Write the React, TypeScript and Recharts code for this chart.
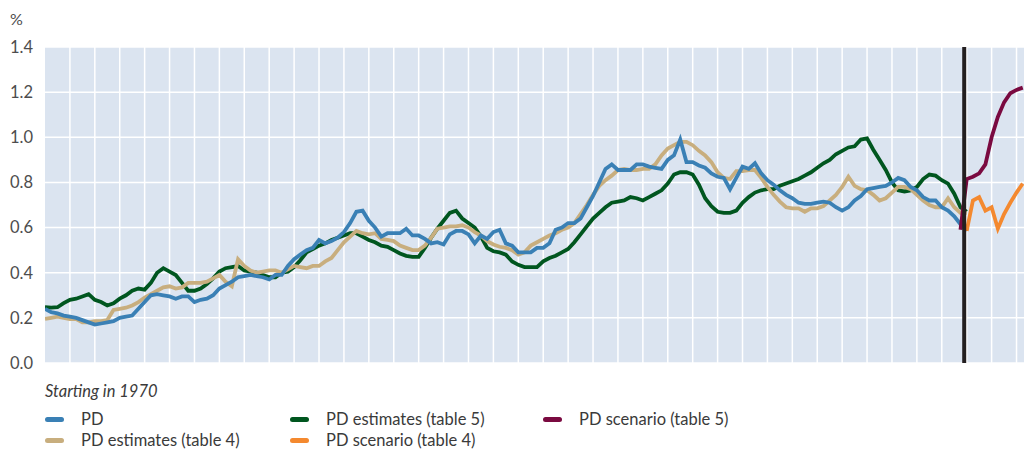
import { LineChart, Line, XAxis, YAxis, CartesianGrid, ReferenceLine } from 'recharts'

// quarterly, starting 1970Q1
const startYear = 1970

const pd = [
  0.24, 0.225, 0.22, 0.21, 0.205, 0.2, 0.19, 0.18, 0.17, 0.175, 0.18, 0.185,
  0.2, 0.205, 0.21, 0.24, 0.27, 0.3, 0.305, 0.3, 0.295, 0.285, 0.295, 0.295,
  0.27, 0.28, 0.285, 0.3, 0.33, 0.345, 0.36, 0.38, 0.385, 0.39, 0.385, 0.38,
  0.37, 0.39, 0.39, 0.43, 0.46, 0.48, 0.5, 0.51, 0.545, 0.53, 0.54, 0.555,
  0.58, 0.62, 0.67, 0.675, 0.63, 0.6, 0.56, 0.575, 0.575, 0.575, 0.595, 0.565,
  0.565, 0.55, 0.53, 0.535, 0.525, 0.57, 0.585, 0.585, 0.57, 0.53, 0.565, 0.55,
  0.58, 0.59, 0.53, 0.52, 0.49, 0.49, 0.49, 0.51, 0.51, 0.53, 0.59, 0.6,
  0.62, 0.62, 0.64, 0.69, 0.74, 0.8, 0.86, 0.88, 0.855, 0.855, 0.855, 0.88,
  0.88, 0.87, 0.865, 0.86, 0.9, 0.92, 0.99, 0.89, 0.89, 0.875, 0.865, 0.84,
  0.825, 0.82, 0.77, 0.82, 0.87, 0.86, 0.885, 0.84, 0.81, 0.79, 0.765, 0.745,
  0.73, 0.71, 0.705, 0.705, 0.71, 0.715, 0.71, 0.69, 0.675, 0.69, 0.72, 0.74,
  0.77, 0.775, 0.78, 0.785, 0.8, 0.82, 0.81, 0.78, 0.765, 0.735, 0.72, 0.72,
  0.69, 0.675, 0.65, 0.615, 0.585,
]

const pdEst4 = [
  0.195, 0.2, 0.205, 0.2, 0.195, 0.195, 0.18, 0.18, 0.185, 0.185, 0.19, 0.235,
  0.24, 0.245, 0.255, 0.27, 0.29, 0.305, 0.32, 0.335, 0.34, 0.33, 0.335, 0.355,
  0.355, 0.355, 0.36, 0.375, 0.39, 0.36, 0.34, 0.46, 0.43, 0.41, 0.4, 0.405,
  0.41, 0.41, 0.4, 0.415, 0.43, 0.425, 0.42, 0.43, 0.43, 0.45, 0.465, 0.5,
  0.535, 0.56, 0.585, 0.575, 0.57, 0.575, 0.55, 0.545, 0.54, 0.52, 0.51, 0.5,
  0.5, 0.52, 0.555, 0.595, 0.6, 0.605, 0.605, 0.61, 0.6, 0.58, 0.565, 0.54,
  0.525, 0.515, 0.51, 0.5, 0.48, 0.49, 0.52, 0.535, 0.55, 0.565, 0.575, 0.59,
  0.6, 0.62, 0.66, 0.7, 0.745, 0.785, 0.81, 0.83, 0.855, 0.86, 0.855, 0.855,
  0.86, 0.86, 0.88, 0.92, 0.95, 0.965, 0.98, 0.98, 0.965, 0.94, 0.92, 0.89,
  0.845, 0.82, 0.815, 0.85, 0.85, 0.855, 0.855, 0.82, 0.78, 0.745, 0.715, 0.69,
  0.685, 0.685, 0.67, 0.685, 0.685, 0.695, 0.72, 0.745, 0.78, 0.825, 0.785, 0.77,
  0.765, 0.745, 0.72, 0.73, 0.755, 0.78, 0.78, 0.77, 0.745, 0.72, 0.7, 0.69,
  0.69, 0.73, 0.69, 0.665, 0.665,
]

const pdEst5 = [
  0.247, 0.245, 0.247, 0.265, 0.28, 0.285, 0.295, 0.305, 0.28, 0.27, 0.255, 0.265,
  0.285, 0.3, 0.32, 0.33, 0.325, 0.355, 0.4, 0.42, 0.405, 0.39, 0.355, 0.32,
  0.32, 0.33, 0.35, 0.375, 0.405, 0.42, 0.425, 0.43, 0.41, 0.405, 0.4, 0.39,
  0.38, 0.38, 0.4, 0.405, 0.425, 0.455, 0.49, 0.505, 0.52, 0.53, 0.545, 0.555,
  0.565, 0.575, 0.575, 0.56, 0.545, 0.535, 0.52, 0.515, 0.5, 0.485, 0.475, 0.47,
  0.47, 0.51, 0.555, 0.595, 0.63, 0.665, 0.675, 0.64, 0.62, 0.6, 0.56, 0.51,
  0.495, 0.49, 0.48, 0.45, 0.435, 0.425, 0.425, 0.425, 0.45, 0.465, 0.475, 0.49,
  0.505, 0.535, 0.57, 0.605, 0.64, 0.665, 0.69, 0.71, 0.715, 0.72, 0.735, 0.73,
  0.72, 0.735, 0.75, 0.765, 0.795, 0.835, 0.845, 0.845, 0.835, 0.79, 0.73, 0.695,
  0.67, 0.665, 0.665, 0.675, 0.71, 0.735, 0.755, 0.765, 0.77, 0.77, 0.785, 0.795,
  0.805, 0.815, 0.83, 0.845, 0.865, 0.885, 0.9, 0.925, 0.94, 0.955, 0.96, 0.99,
  0.995, 0.945, 0.9, 0.855, 0.8, 0.765, 0.76, 0.765, 0.78, 0.815, 0.835, 0.83,
  0.81, 0.795, 0.75, 0.69, 0.67,
]

// scenarios: table 5 starts at quarter 147, table 4 at quarter 148
const scen5Start = 147
const pdScen5 = [0.59, 0.815, 0.825, 0.84, 0.88, 1.0, 1.09, 1.155, 1.195, 1.21, 1.22]
const scen4Start = 148
const pdScen4 = [0.585, 0.72, 0.735, 0.675, 0.69, 0.595, 0.66, 0.71, 0.755, 0.795]

const yTicks = [0, 0.2, 0.4, 0.6, 0.8, 1.0, 1.2, 1.4]
const yearTicks = Array.from({ length: 39 }, (_, k) => startYear + 1 + k)
const xDomain = [1970, 2009.3]
const cutoff = 2006.9

const nQuarters = scen4Start + pdScen4.length
const data = Array.from({ length: nQuarters }, (_, i) => ({
  t: startYear + i / 4,
  pd: pd[i],
  est4: pdEst4[i],
  est5: pdEst5[i],
  scen5: pdScen5[i - scen5Start],
  scen4: pdScen4[i - scen4Start],
}))

const colors = {
  pd: '#3a80b5',
  est4: '#c8ae7e',
  est5: '#00561f',
  scen5: '#7a0a40',
  scen4: '#f4892f',
}

const legendItems = [
  { label: 'PD', color: colors.pd, col: 0, row: 0 },
  { label: 'PD estimates (table 5)', color: colors.est5, col: 1, row: 0 },
  { label: 'PD scenario (table 5)', color: colors.scen5, col: 2, row: 0 },
  { label: 'PD estimates (table 4)', color: colors.est4, col: 0, row: 1 },
  { label: 'PD scenario (table 4)', color: colors.scen4, col: 1, row: 1 },
]
const colX = [45, 290, 543]

const font = 'Lato, "Open Sans", sans-serif'
const lineW = 3.8

// vertical gridlines at each year, through the x axis scale when available
const yearLines = (props: any) => {
  const { xAxis, offset } = props
  if (xAxis && typeof xAxis.scale === 'function') {
    return yearTicks.map((y) => xAxis.scale(y))
  }
  return yearTicks.map(
    (y) => offset.left + ((y - xDomain[0]) / (xDomain[1] - xDomain[0])) * offset.width
  )
}

export default function App() {
  return (
    <div style={{ position: 'absolute', left: 0, top: 0, width: 1024, height: 453, fontFamily: font, background: '#fff' }}>
      <div style={{ position: 'absolute', left: 10, top: 9, fontSize: 16, color: '#4d4d4d' }}>%</div>
      <LineChart width={1024} height={453} data={data} margin={{ top: 47, right: 0, bottom: 90, left: 0 }}>
        <CartesianGrid
          fill="#dbe4f0"
          stroke="#fff"
          strokeWidth={1.5}
          verticalCoordinatesGenerator={yearLines}
        />
        <XAxis
          dataKey="t"
          type="number"
          domain={xDomain}
          ticks={yearTicks}
          tick={false}
          axisLine={false}
          tickLine={false}
          height={0}
          allowDataOverflow
        />
        <YAxis
          domain={[0, 1.4]}
          ticks={yTicks}
          interval={0}
          tickFormatter={(v: number) => v.toFixed(1)}
          axisLine={false}
          tickLine={false}
          tickSize={0}
          tickMargin={12}
          width={45}
          tick={{ fontSize: 16.5, fill: '#4d4d4d', fontFamily: font }}
        />
        <Line type="linear" dataKey="est5" stroke={colors.est5} strokeWidth={lineW} dot={false} isAnimationActive={false} />
        <Line type="linear" dataKey="est4" stroke={colors.est4} strokeWidth={lineW} dot={false} isAnimationActive={false} />
        <Line type="linear" dataKey="pd" stroke={colors.pd} strokeWidth={lineW} dot={false} isAnimationActive={false} />
        <Line type="linear" dataKey="scen5" stroke={colors.scen5} strokeWidth={lineW} dot={false} isAnimationActive={false} />
        <Line type="linear" dataKey="scen4" stroke={colors.scen4} strokeWidth={lineW} dot={false} isAnimationActive={false} />
        <ReferenceLine x={cutoff} stroke="#231f20" strokeWidth={4} />
      </LineChart>
      <div style={{ position: 'absolute', left: 45, top: 381, fontSize: 16.5, fontStyle: 'italic', color: '#3a3a3a' }}>
        Starting in 1970
      </div>
      {legendItems.map((item) => (
        <div
          key={item.label}
          style={{
            position: 'absolute',
            left: colX[item.col],
            top: 409 + item.row * 21,
            display: 'flex',
            alignItems: 'center',
            fontSize: 16.5,
            color: '#3a3a3a',
            lineHeight: '21px',
          }}
        >
          <span style={{ display: 'inline-block', width: 19, height: 5, borderRadius: 3, background: item.color, marginRight: 17 }} />
          {item.label}
        </div>
      ))}
    </div>
  )
}
